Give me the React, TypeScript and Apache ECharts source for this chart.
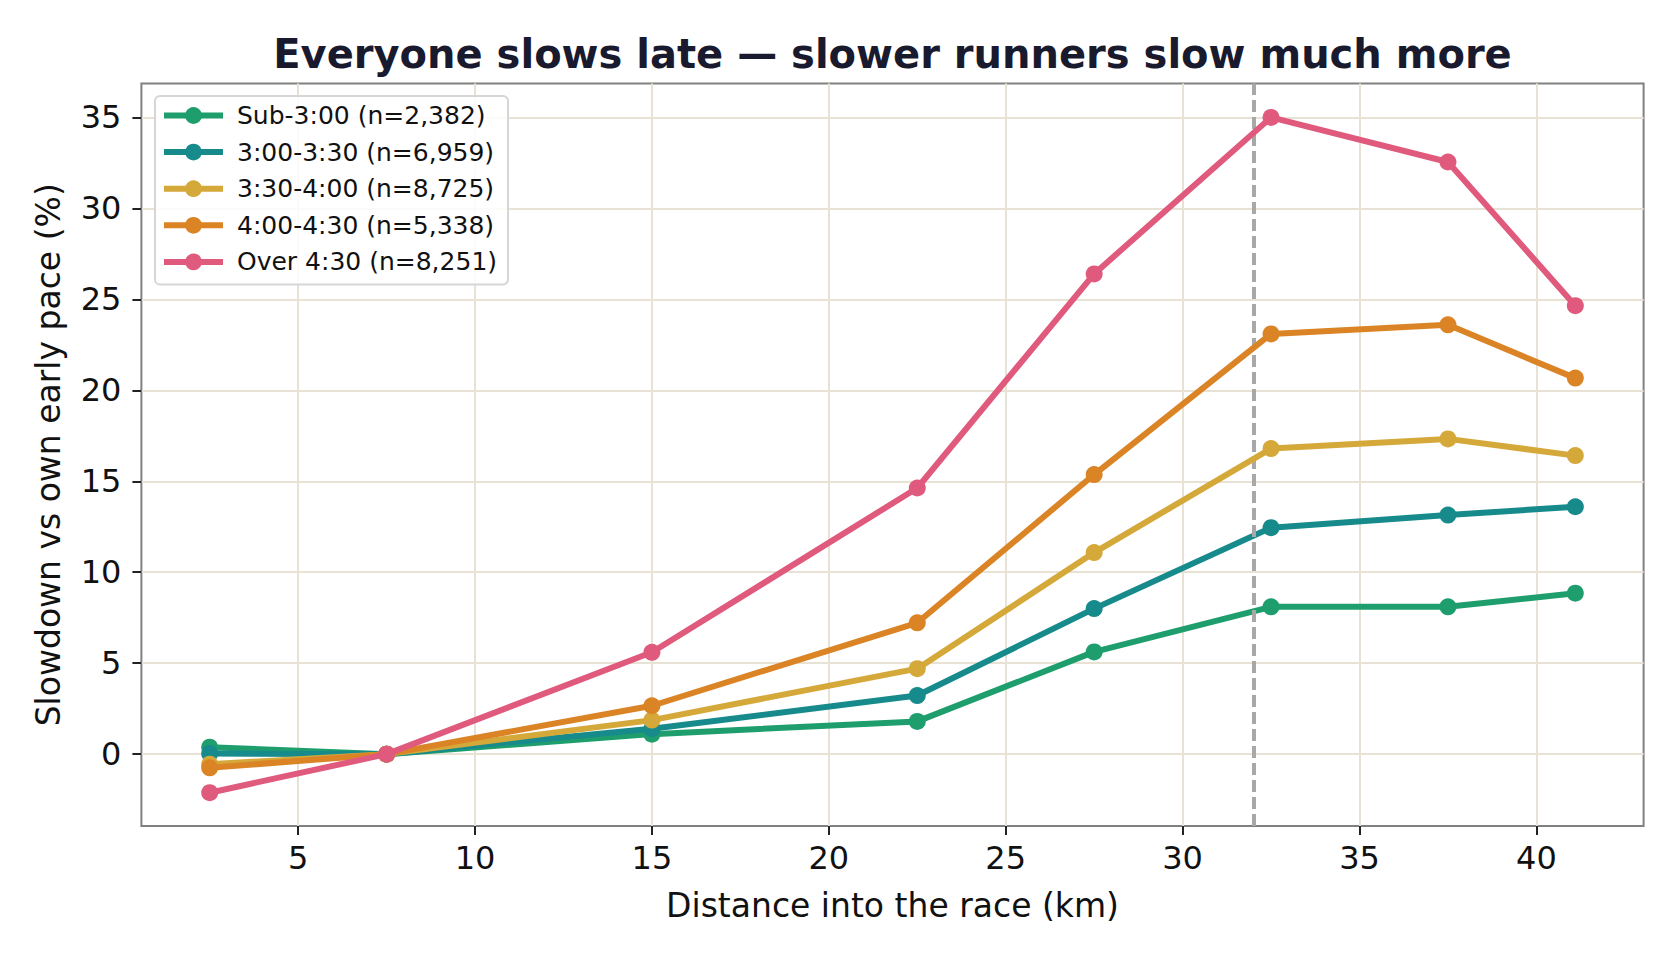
import React, { useEffect, useRef } from "react";
import * as echarts from "echarts";

const TITLE = "Everyone slows late — slower runners slow much more";
const X_NAME = "Distance into the race (km)";
const Y_NAME = "Slowdown vs own early pace (%)";

const X_KM = [2.5, 7.5, 15, 22.5, 27.5, 32.5, 37.5, 41.1];
const X_TICKS = [5, 10, 15, 20, 25, 30, 35, 40];
const Y_TICKS = [0, 5, 10, 15, 20, 25, 30, 35];
const WALL_KM = 32;

const SERIES_NAMES = [
  "Sub-3:00 (n=2,382)",
  "3:00-3:30 (n=6,959)",
  "3:30-4:00 (n=8,725)",
  "4:00-4:30 (n=5,338)",
  "Over 4:30 (n=8,251)",
];
const SERIES_COLORS = ["#1f9e6d", "#178a8c", "#d5a83a", "#db8426", "#e05a7e"];

const SUB3 = [0.38, 0, 1.1, 1.8, 5.62, 8.1, 8.1, 8.85];
const S300_330 = [0.03, 0, 1.4, 3.22, 8.0, 12.45, 13.14, 13.6];
const S330_400 = [-0.55, 0, 1.87, 4.7, 11.08, 16.8, 17.33, 16.41];
const S400_430 = [-0.75, 0, 2.66, 7.22, 15.37, 23.1, 23.6, 20.67];
const OVER430 = [-2.12, 0, 5.6, 14.63, 26.4, 35.0, 32.55, 24.65];

const SERIES_VALUES = [SUB3, S300_330, S330_400, S400_430, OVER430];

const FONT = "DejaVu Sans";

export default function App() {
  const ref = useRef<HTMLDivElement>(null);

  useEffect(() => {
    if (!ref.current) return;
    const chart = echarts.init(ref.current, null, { renderer: "svg" });

    const gridLeft = 141.4;
    const gridRight = 36.4;
    const gridTop = 83.6;
    const gridBottom = 134;
    const plotCenterX = gridLeft + (1680 - gridLeft - gridRight) / 2;

    const series: any[] = SERIES_NAMES.map((name, i) => ({
      name,
      type: "line",
      data: X_KM.map((x, j) => [x, SERIES_VALUES[i][j]]),
      symbol: "circle",
      symbolSize: 17,
      showSymbol: true,
      color: SERIES_COLORS[i],
      lineStyle: { width: 6, color: SERIES_COLORS[i] },
      itemStyle: { color: SERIES_COLORS[i], borderWidth: 0 },
      z: 3 + i,
    }));

    series[0].markLine = {
      silent: true,
      symbol: "none",
      label: { show: false },
      lineStyle: { color: "#a8a8a8", width: 4, type: [12, 5] },
      data: [{ xAxis: WALL_KM }],
    };

    const axisCommon = {
      type: "value",
      splitNumber: 8,
      axisLine: { show: false, onZero: false },
      axisTick: {
        show: true,
        inside: false,
        length: 9,
        lineStyle: { color: "#222222", width: 2 },
      },
      splitLine: { show: true, lineStyle: { color: "#e8e2d4", width: 2 } },
      showMinLabel: false,
      showMaxLabel: false,
      nameLocation: "middle",
      nameTextStyle: { fontFamily: FONT, fontSize: 33, color: "#111111" },
    };

    chart.setOption({
      animation: false,
      backgroundColor: "#ffffff",
      textStyle: { fontFamily: FONT },
      grid: {
        left: gridLeft,
        right: gridRight,
        top: gridTop,
        bottom: gridBottom,
        show: true,
        borderColor: "#808080",
        borderWidth: 2,
        backgroundColor: "#ffffff",
      },
      graphic: [
        {
          type: "text",
          x: plotCenterX,
          y: 53.6,
          style: {
            text: TITLE,
            fontFamily: FONT,
            fontSize: 40,
            fontWeight: "bold",
            fill: "#1a1a2e",
            textAlign: "center",
            textVerticalAlign: "middle",
          },
        },
      ],
      legend: {
        orient: "vertical",
        left: 155,
        top: 96,
        itemWidth: 59,
        itemHeight: 21,
        itemGap: 11.6,
        padding: [7, 11, 10, 6],
        backgroundColor: "rgba(255,255,255,0.85)",
        borderColor: "#d6d6d6",
        borderWidth: 2,
        borderRadius: 5,
        lineStyle: { width: 6 },
        textStyle: {
          fontFamily: FONT,
          fontSize: 25,
          color: "#111111",
          padding: [0, 0, 0, 9],
        },
        data: SERIES_NAMES,
      },
      xAxis: {
        ...axisCommon,
        min: 0.57,
        max: 43.03,
        name: X_NAME,
        nameGap: 63,
        axisTick: { ...axisCommon.axisTick, customValues: X_TICKS },
        axisLabel: {
          fontFamily: FONT,
          fontSize: 32,
          color: "#111111",
          margin: 16,
          customValues: X_TICKS,
        },
      },
      yAxis: {
        ...axisCommon,
        min: -3.95,
        max: 36.86,
        name: Y_NAME,
        nameGap: 76,
        axisTick: { ...axisCommon.axisTick, customValues: Y_TICKS },
        axisLabel: {
          fontFamily: FONT,
          fontSize: 32,
          color: "#111111",
          margin: 20,
          customValues: Y_TICKS,
        },
      },
      series,
    });

    return () => chart.dispose();
  }, []);

  return (
    <div
      ref={ref}
      style={{ position: "fixed", left: 0, top: 0, width: 1680, height: 960 }}
    />
  );
}
